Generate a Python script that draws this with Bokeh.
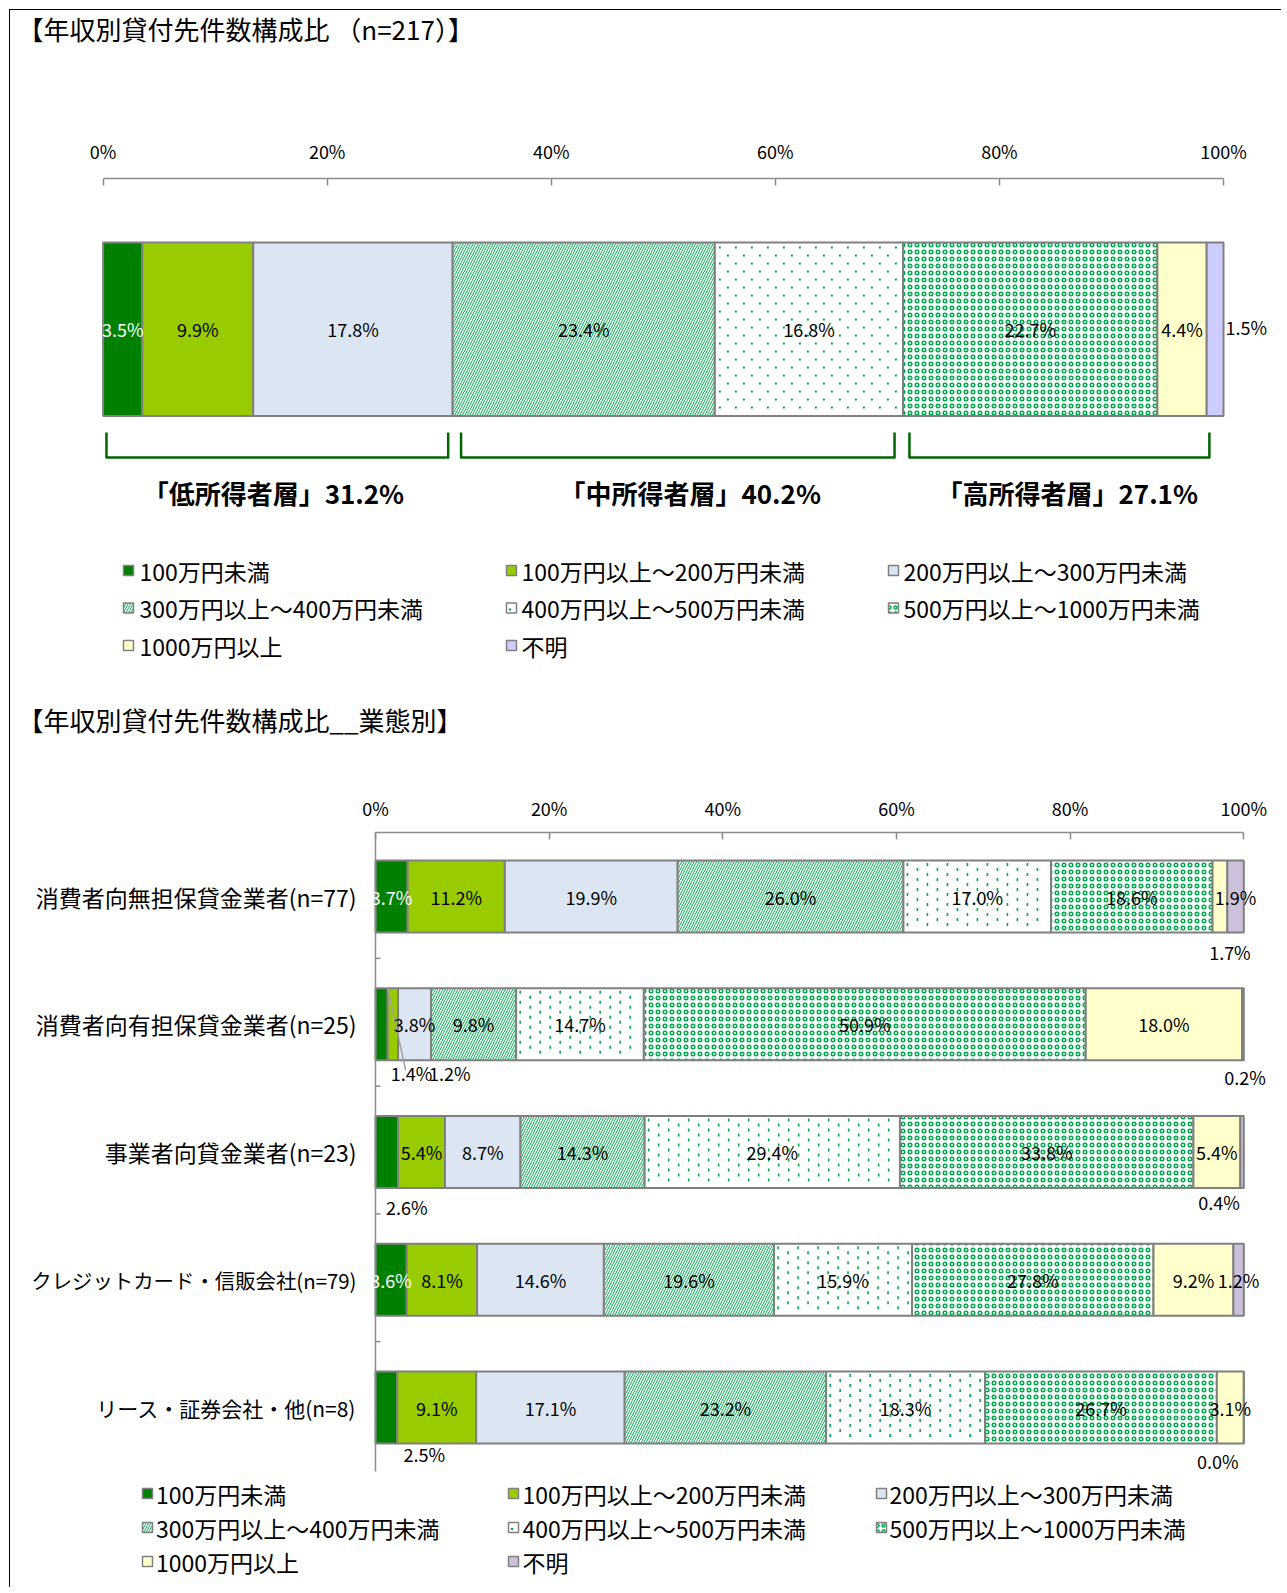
import numpy as np
from bokeh.plotting import figure
from bokeh.models import (Range1d, LinearAxis, FixedTicker, PrintfTickFormatter,
                          ColumnDataSource)
from bokeh.layouts import column
from bokeh.embed import file_html
from bokeh.resources import INLINE
from bokeh.core.properties import value

FONT = "Noto Sans CJK JP"

# ---------------- data ----------------
series = ["100万円未満", "100万円以上～200万円未満", "200万円以上～300万円未満",
          "300万円以上～400万円未満", "400万円以上～500万円未満", "500万円以上～1000万円未満",
          "1000万円以上", "不明"]

overall_title = "【年収別貸付先件数構成比 （n=217）】"
overall_values = [3.5, 9.9, 17.8, 23.4, 16.8, 22.7, 4.4, 1.5]
income_groups = ["低所得者層", "中所得者層", "高所得者層"]
group_members = [[0, 1, 2], [3, 4], [5, 6]]

business_title = "【年収別貸付先件数構成比__業態別】"
business_types = ["消費者向無担保貸金業者(n=77)", "消費者向有担保貸金業者(n=25)",
                  "事業者向貸金業者(n=23)", "クレジットカード・信販会社(n=79)",
                  "リース・証券会社・他(n=8)"]
under_100 = [3.7, 1.4, 2.6, 3.6, 2.5]
from_100_to_200 = [11.2, 1.2, 5.4, 8.1, 9.1]
from_200_to_300 = [19.9, 3.8, 8.7, 14.6, 17.1]
from_300_to_400 = [26.0, 9.8, 14.3, 19.6, 23.2]
from_400_to_500 = [17.0, 14.7, 29.4, 15.9, 18.3]
from_500_to_1000 = [18.6, 50.9, 33.8, 27.8, 26.7]
over_1000 = [1.7, 18.0, 5.4, 9.2, 3.1]
unknown = [1.9, 0.2, 0.4, 1.2, 0.0]
business_values = [under_100, from_100_to_200, from_200_to_300, from_300_to_400,
                   from_400_to_500, from_500_to_1000, over_1000, unknown]

tick_values = [0, 20, 40, 60, 80, 100]

# ---------------- style ----------------
OUTLINE = "#808080"
HG = "#00A84F"
fills_top = ["#008000", "#99CC00", "#DCE6F2", "#FFFFFF", "#FFFFFF", "#FFFFFF", "#FFFFCC", "#CCCCFF"]
fills_bottom = ["#008000", "#99CC00", "#DCE6F2", "#FFFFFF", "#FFFFFF", "#FFFFFF", "#FFFFCC", "#CCC0DA"]
DOTTED = 4  # series drawn with a dot texture


def seg_style(i, fills, lw=2):
    kw = dict(fill_color=fills[i], line_color=OUTLINE, line_width=lw)
    if i == 3:
        kw.update(hatch_pattern="/", hatch_color=HG, hatch_scale=5, hatch_weight=1.0)
    elif i == 5:
        kw.update(hatch_pattern="o", hatch_color=HG, hatch_scale=7, hatch_weight=1.5)
    return kw


def lattice(left, right, top, bottom, u, step_x, step_y, pad):
    """positions (data x, y) of a staggered texture inside one bar segment"""
    xs, ys = [], []
    lpx, rpx = left * u, right * u
    y, row = top + pad, 0
    while y <= bottom - pad:
        x = lpx + pad + (step_x / 2 if row % 2 else 0)
        while x <= rpx - pad:
            xs.append(x / u)
            ys.append(y)
            x += step_x
        y += step_y
        row += 1
    return xs, ys


W = 1271


def make_fig(height, axis_y, x0, x100, label_standoff):
    u = (x100 - x0) / 100.0
    p = figure(width=W, height=height,
               x_range=Range1d(-x0 / u, (W - x0) / u),
               y_range=Range1d(height, 0),
               output_backend="svg", toolbar_location=None,
               x_axis_type=None, y_axis_type=None,
               min_border=0, outline_line_color=None,
               background_fill_color="white", border_fill_color="white")
    ax = LinearAxis(ticker=FixedTicker(ticks=tick_values),
                    formatter=PrintfTickFormatter(format="%d%%"),
                    bounds=(0, 100), fixed_location=axis_y,
                    axis_line_color="#8C8C8C", axis_line_width=1.5,
                    major_tick_line_color="#8C8C8C", major_tick_line_width=1.5,
                    major_tick_in=7, major_tick_out=0,
                    minor_tick_line_color=None,
                    major_label_standoff=label_standoff,
                    major_label_text_font=FONT,
                    major_label_text_font_size="18px",
                    major_label_text_color="black")
    p.add_layout(ax, "above")
    return p, u


def text(p, xs, ys, ts, size, align="center", colors=None, style="normal"):
    sizes = size if isinstance(size, list) else [size] * len(ts)
    src = ColumnDataSource(dict(x=xs, y=ys, t=ts, c=colors or ["black"] * len(ts), s=sizes))
    p.text(x="x", y="y", text="t", source=src, text_color="c",
           text_font=value(FONT), text_font_size="s", text_font_style=style,
           text_align=align, text_baseline="middle")


def legend(p, u, x0, fills, box_px, text_px, rows_y):
    for i, name in enumerate(series):
        r, c = divmod(i, 3)
        kw = seg_style(i, fills, lw=1.5)
        if "hatch_scale" in kw:
            kw["hatch_scale"] = min(kw["hatch_scale"], 6)
        bx = (box_px[c] - x0) / u
        p.scatter(x=[bx], y=[rows_y[r]], marker="square", size=10, **kw)
        if i == DOTTED:
            p.rect(x=[bx - 1.5 / u], y=[rows_y[r] + 1.5], width=2 / u, height=2,
                   fill_color=HG, line_color=None)
        text(p, [(text_px[c] - x0) / u], [rows_y[r]], [name], "23px", align="left")


# ================= top chart =================
H1, AXIS1_Y, X0_1, X100_1 = 690, 168, 92.6, 1213.0
p1, u1 = make_fig(H1, AXIS1_Y, X0_1, X100_1, 15)
text(p1, [(7 - X0_1) / u1], [18], [overall_title], "26px", align="left")

BAR1_Y, BAR1_H = 318.75, 173.5
cum1 = np.concatenate([[0], np.cumsum(overall_values)])
for i in range(len(series)):
    src = ColumnDataSource(dict(y=[BAR1_Y], left=[cum1[i]], right=[cum1[i + 1]]))
    p1.hbar(y="y", left="left", right="right", height=BAR1_H, source=src, **seg_style(i, fills_top))

# dot texture for the 400-500 segment
dx_, dy_ = lattice(cum1[DOTTED], cum1[DOTTED + 1], BAR1_Y - BAR1_H / 2, BAR1_Y + BAR1_H / 2,
                   u1, 16, 8, 5)
p1.rect(x=dx_, y=dy_, width=2 / u1, height=2, fill_color=HG, line_color=None)

lx, ly, lt, lc = [], [], [], []
for i, v in enumerate(overall_values):
    if i == len(series) - 1:
        continue
    lx.append((cum1[i] + cum1[i + 1]) / 2)
    ly.append(BAR1_Y)
    lt.append(f"{v:.1f}%")
    lc.append("white" if i == 0 else "black")
text(p1, lx, ly, lt, "18px", colors=lc)
# outside label for the last (unknown) segment
text(p1, [cum1[-1] + 2 / u1], [BAR1_Y - 2], [f"{overall_values[-1]:.1f}%"], "18px", align="left")

# brackets for income groups
BR_TOP, BR_BOT = 422, 447
bracket_inset = [(0.3, -0.4), (0.75, -0.76), (0.57, 0.24)]
label_shift = [-0.4, 1.1, 1.1]
bxs, bys, gx, gt = [], [], [], []
for g, members in enumerate(group_members):
    l = cum1[members[0]] + bracket_inset[g][0]
    r = cum1[members[-1] + 1] + bracket_inset[g][1]
    bxs.append([l, l, r, r])
    bys.append([BR_TOP, BR_BOT, BR_BOT, BR_TOP])
    total = sum(overall_values[m] for m in members)
    gx.append((cum1[members[0]] + cum1[members[-1] + 1]) / 2 + label_shift[g])
    gt.append(f"「{income_groups[g]}」{total:.1f}%")
p1.multi_line(xs=bxs, ys=bys, line_color="#006600", line_width=2.5, line_join="round")
text(p1, gx, [482] * 3, gt, "26px", style="bold")

legend(p1, u1, X0_1, fills_top, [118, 501, 883], [129, 511, 893], [560, 597.5, 635])

# ================= bottom chart =================
H2, AXIS2_Y, X0_2, X100_2 = 887, 132, 365.0, 1233.3
p2, u2 = make_fig(H2, AXIS2_Y, X0_2, X100_2, 12)
text(p2, [(7 - X0_2) / u2], [19], [business_title], "26px", align="left")

ROW0, ROW_STEP, BAR2_H = 196.0, 127.75, 72
rows_y = [ROW0 + k * ROW_STEP for k in range(len(business_types))]
cum2 = np.zeros(len(business_types))
dash_x, dash_y = [], []
for i, vals in enumerate(business_values):
    left = cum2.copy()
    cum2 = cum2 + np.array(vals)
    src = ColumnDataSource(dict(y=rows_y, left=left, right=cum2))
    p2.hbar(y="y", left="left", right="right", height=BAR2_H, source=src, **seg_style(i, fills_bottom))
    if i == DOTTED:
        for r in range(len(business_types)):
            xs_, ys_ = lattice(left[r], cum2[r], rows_y[r] - BAR2_H / 2, rows_y[r] + BAR2_H / 2,
                               u2, 20, 5, 4)
            dash_x += xs_
            dash_y += ys_
p2.rect(x=dash_x, y=dash_y, width=1.6 / u2, height=3, fill_color=HG, line_color=None)

# left axis line and boundary ticks
axis_bottom = rows_y[-1] + ROW_STEP / 2
p2.segment(x0=[0], y0=[AXIS2_Y], x1=[0], y1=[axis_bottom], line_color="#8C8C8C", line_width=1.5)
bounds_y = [rows_y[k] + ROW_STEP / 2 - 2 for k in range(len(business_types) - 1)]
p2.segment(x0=[0] * len(bounds_y), y0=bounds_y, x1=[5 / u2] * len(bounds_y), y1=bounds_y,
           line_color="#8C8C8C", line_width=1.5)

# label offsets (px) for narrow segments, keyed by (row, series)
label_offsets = {(0, 6): (10, 55), (1, 0): (30, 49), (1, 1): (57, 49), (1, 7): (2, 53),
                 (2, 0): (20, 55), (2, 7): (-23, 50), (4, 0): (38, 46), (4, 7): (-26, 53)}

# leader line for the small segment in row 2
p2.segment(x0=[business_values[0][1]], y0=[rows_y[1] - BAR2_H / 2],
           x1=[business_values[0][1] + 18 / u2], y1=[rows_y[1] + 46],
           line_color="#A0A0A0", line_width=1.5)

lx, ly, lt, lc = [], [], [], []
run = np.zeros(len(business_types))
for i, vals in enumerate(business_values):
    for r, v in enumerate(vals):
        cx = run[r] + v / 2
        dx, dy = label_offsets.get((r, i), (0, 0))
        lx.append(cx + dx / u2)
        ly.append(rows_y[r] + dy)
        lt.append(f"{v:.1f}%")
        lc.append("white" if (i == 0 and (r, i) not in label_offsets) else "black")
    run = run + np.array(vals)
text(p2, lx, ly, lt, "18px", colors=lc)

# category labels
cat_sizes = ["23px", "23px", "23px", "20.4px", "21px"]
text(p2, [(346 - X0_2) / u2] * len(business_types), rows_y, business_types, cat_sizes, align="right")

legend(p2, u2, X0_2, fills_bottom, [137, 503, 871], [145.5, 512, 879], [793, 827, 861])

layout = column(p1, p2, margin=(9, 0, 0, 9),
                styles={"border-top": "1px solid #000", "border-left": "1px solid #000"})
open("out.html", "w").write(file_html(layout, INLINE))
